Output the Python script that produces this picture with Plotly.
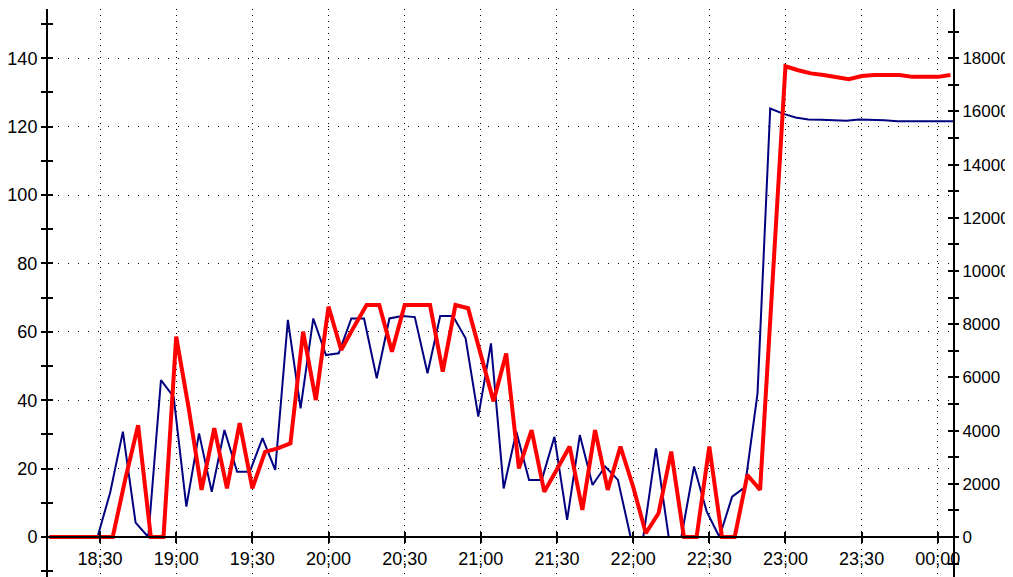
import pandas as pd
import plotly.graph_objects as go

# sample times (5 min steps); the blue series is logged one minute earlier
red_times = pd.date_range("2024-01-01 18:10", periods=72, freq="5min")
blue_times = pd.date_range("2024-01-01 18:09", periods=73, freq="5min")

# blue series, left axis
blue_vals = [
    0, 0, 0, 0, 0, 13, 30.8, 4.2, 0, 45.9,
    41.0, 8.9, 30.3, 13.2, 31.3, 19.1, 19.1, 28.9, 19.6, 63.5, 37.6, 63.9,
    53.2, 53.7, 63.9, 63.9, 46.4, 63.9, 64.6, 64.3, 47.9, 64.6, 64.6, 58.1,
    35.2, 56.6, 14.2, 30.8, 16.7, 16.7, 29.3, 5.0, 29.8, 15.2, 20.6, 16.7,
    0, 0, 25.9, 0, 0, 20.6, 7.4, 0, 11.8, 14.5, 42, 125.3,
    123.8, 122.7, 122.1, 122.0, 121.9, 121.7, 122.1, 122.1, 121.9, 121.6, 121.6, 121.6,
    121.6, 121.6, 121.6,
]

# red series, right axis
red_vals = [
    0, 0, 0, 0, 0, 0, 2200, 4200, 0, 0,
    7530, 4800, 1770, 4090, 1830, 4280, 1830, 3200, 3330, 3520, 7720, 5150,
    8660, 7030, 7900, 8720, 8720, 6970, 8720, 8720, 8720, 6220, 8720, 8600,
    6880, 5100, 6900, 2580, 4020, 1700, 2550, 3400, 1020, 4020, 1770, 3400,
    1890, 140, 890, 3210, 0, 0, 3400, 0, 0, 2330, 1770, 9700,
    17700, 17550, 17430, 17370, 17300, 17210, 17330, 17370, 17370, 17370, 17300, 17300,
    17300, 17370,
]

y_range = [-11.7, 154.4]
y2_range = [v * 18000 / 140 for v in y_range]
x_range = ["2024-01-01 18:09:30", "2024-01-02 00:06"]
zero_pos = -y_range[0] / (y_range[1] - y_range[0])

font = dict(family="Liberation Sans, Arial, sans-serif", size=18, color="black")
font_right = dict(font, size=17)

fig = go.Figure()
fig.add_trace(go.Scatter(x=blue_times, y=blue_vals, mode="lines",
                         line=dict(color="#000080", width=2), yaxis="y"))
fig.add_trace(go.Scatter(x=red_times, y=red_vals, mode="lines",
                         line=dict(color="#ff0000", width=4), yaxis="y2"))
# empty traces just to hold the tick-only axes (ticks crossing the lines)
fig.add_trace(go.Scatter(x=[], y=[], xaxis="x2", yaxis="y3", showlegend=False))
fig.add_trace(go.Scatter(x=[], y=[], xaxis="x", yaxis="y4", showlegend=False))

xcommon = dict(type="date", range=x_range, tick0="2024-01-01 18:00", dtick=1800000)
ticks_in = dict(ticks="inside", ticklen=5, tickwidth=2, tickcolor="black",
                showticklabels=False, showgrid=False, showline=False, zeroline=False,
                automargin=False)

# page body adds an 8px offset, so the figure is 8px smaller than the window
fig.update_layout(
    width=1005, height=569,
    margin=dict(l=40, r=60, t=1, b=0),
    paper_bgcolor="white", plot_bgcolor="white",
    showlegend=False,
    font=font,
    xaxis=dict(**xcommon, tickformat="%H;%M", anchor="free", position=zero_pos,
               automargin=False,
               showline=True, linecolor="black", linewidth=2,
               ticks="outside", ticklen=5, tickwidth=2, tickcolor="black",
               showgrid=True, gridcolor="black", gridwidth=1, griddash="1px,5px",
               zeroline=False, tickfont=font),
    xaxis2=dict(**xcommon, overlaying="x", anchor="free", position=zero_pos, **ticks_in),
    yaxis=dict(range=y_range, tick0=0, dtick=20, automargin=False,
               showline=True, linecolor="black", linewidth=2,
               ticks="outside", ticklen=5, tickwidth=2, tickcolor="black",
               minor=dict(dtick=10, ticks="outside", ticklen=5, tickwidth=2,
                          tickcolor="black", showgrid=False),
               showgrid=True, gridcolor="black", gridwidth=1, griddash="1px,9px",
               zeroline=False, tickfont=font),
    yaxis2=dict(range=y2_range, tick0=0, dtick=2000, overlaying="y", side="right",
                automargin=False, tickformat="d",
                showline=True, linecolor="black", linewidth=2,
                ticks="outside", ticklen=4, tickwidth=2, tickcolor="black",
                minor=dict(dtick=1000, ticks="outside", ticklen=4, tickwidth=2,
                           tickcolor="black", showgrid=False),
                showgrid=False, zeroline=False, tickfont=font_right),
    yaxis3=dict(range=y_range, tick0=0, dtick=10, overlaying="y", side="left",
                anchor="x", **ticks_in),
    yaxis4=dict(range=y2_range, tick0=0, dtick=1000, overlaying="y", side="right",
                anchor="x", **ticks_in),
)

fig.write_html("out.html")
